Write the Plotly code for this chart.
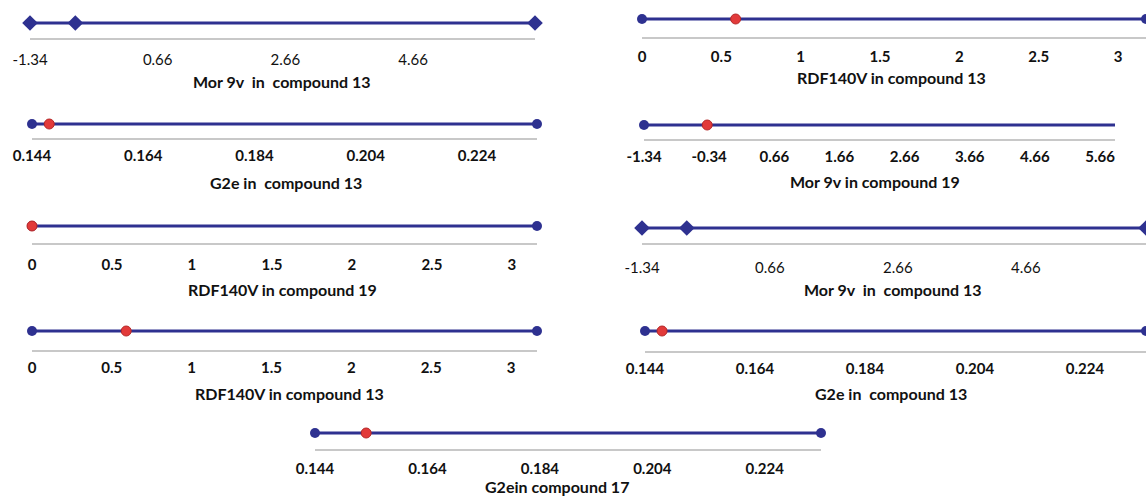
import plotly.graph_objects as go

# ---------------- data ----------------
panel_titles = [
    "Mor 9v\u00a0 in\u00a0 compound 13",
    "RDF140V in compound 13",
    "G2e in\u00a0 compound 13",
    "Mor 9v in compound 19",
    "RDF140V in compound 19",
    "Mor 9v\u00a0 in\u00a0 compound 13",
    "RDF140V in compound 13",
    "G2e in\u00a0 compound 13",
    "G2ein compound 17",
]
range_min = [-1.34, 0.0, 0.144, -1.34, 0.0, -1.34, 0.0, 0.144, 0.144]
range_max = [6.57, 3.176, 0.2348, 5.89, 3.157, 6.54, 3.163, 0.2351, 0.234]
point_value = [-0.63, 0.59, 0.1471, -0.37, 0.0, -0.64, 0.59, 0.1471, 0.1531]

ticks_mor13 = [-1.34, 0.66, 2.66, 4.66]
ticks_mor19 = [-1.34, -0.34, 0.66, 1.66, 2.66, 3.66, 4.66, 5.66]
ticks_rdf = [0, 0.5, 1, 1.5, 2, 2.5, 3]
ticks_g2e = [0.144, 0.164, 0.184, 0.204, 0.224]
labels_mor13 = ["-1.34", "0.66", "2.66", "4.66"]
labels_mor19 = ["-1.34", "-0.34", "0.66", "1.66", "2.66", "3.66", "4.66", "5.66"]
labels_rdf = ["0", "0.5", "1", "1.5", "2", "2.5", "3"]
labels_g2e = ["0.144", "0.164", "0.184", "0.204", "0.224"]

tick_values = [ticks_mor13, ticks_rdf, ticks_g2e, ticks_mor19, ticks_rdf,
               ticks_mor13, ticks_rdf, ticks_g2e, ticks_g2e]
tick_labels = [labels_mor13, labels_rdf, labels_g2e, labels_mor19, labels_rdf,
               labels_mor13, labels_rdf, labels_g2e, labels_g2e]

# ---------------- style / layout ----------------
W, H = 1146, 496
NAVY = "#2E3190"
RED = "#E23A3A"
GRAY = "#C8C8C8"
FONT = "Lato"

# x0, x1 (px), line y, axis y, title x, title y, symbol, point is red, right end marker,
# tick bold
geom = [
    (30, 535, 23, 38, 282, 82, "diamond", False, True, False),
    (642, 1146, 19, 37, 891, 77, "circle", True, True, True),
    (32, 537, 124, 138, 286, 182, "circle", True, True, True),
    (644, 1115, 125, 139, 875, 181, "circle", True, False, True),
    (32, 537, 226, 243, 282, 289, "circle", True, True, True),
    (642, 1146, 228, 243, 893, 289, "diamond", False, True, False),
    (32, 537, 331, 350, 289, 393, "circle", True, True, True),
    (645, 1146, 331, 351, 891, 393, "circle", True, True, True),
    (315, 821, 433, 449, 557, 486, "circle", True, True, True),
]
standoff = [7, 5, 3, 3, 7, 10, 3, 3, 5]

fig = go.Figure()
layout = dict(
    template="none",
    width=W, height=H,
    margin=dict(l=0, r=0, t=0, b=0, autoexpand=False),
    paper_bgcolor="white", plot_bgcolor="white",
    showlegend=False,
    annotations=[],
)

for i in range(9):
    x0, x1, yl, ya, tx, ty, sym, red, right_end, bold = geom[i]
    lo, hi = range_min[i], range_max[i]
    n = "" if i == 0 else str(i + 1)
    xa, ya_name = "x" + n, "y" + n
    msize = 12 if sym == "diamond" else 10

    fig.add_trace(go.Scatter(
        x=[lo, hi], y=[1, 1], mode="lines",
        line=dict(color=NAVY, width=3), xaxis=xa, yaxis=ya_name,
        cliponaxis=False, hoverinfo="skip"))
    ends = [lo, hi] if right_end else [lo]
    fig.add_trace(go.Scatter(
        x=ends, y=[1] * len(ends), mode="markers",
        marker=dict(color=NAVY, size=msize, symbol=sym),
        xaxis=xa, yaxis=ya_name, cliponaxis=False))
    fig.add_trace(go.Scatter(
        x=[point_value[i]], y=[1], mode="markers",
        marker=dict(color=RED if red else NAVY, size=msize, symbol=sym,
                    line=dict(color="#B52828" if red else NAVY, width=1 if red else 0)),
        xaxis=xa, yaxis=ya_name, cliponaxis=False))

    top = 2 * yl - ya
    layout["xaxis" + n] = dict(
        domain=[x0 / W, x1 / W], range=[lo, hi], anchor=ya_name,
        automargin=False,
        showline=True, linecolor=GRAY, linewidth=2,
        showgrid=False, zeroline=False, ticks="",
        tickmode="array", tickvals=tick_values[i],
        ticktext=[("<b>%s</b>" % t) if bold else t for t in tick_labels[i]],
        tickfont=dict(family=FONT, size=15, color="#111111"),
        ticklabelstandoff=standoff[i], fixedrange=True,
    )
    layout["yaxis" + n] = dict(
        domain=[1 - ya / H, 1 - top / H], range=[0, 2], anchor=xa,
        automargin=False,
        visible=False, fixedrange=True,
    )
    layout["annotations"].append(dict(
        xref="paper", yref="paper", x=tx / W, y=1 - ty / H,
        text="<b>%s</b>" % panel_titles[i], showarrow=False,
        xanchor="center", yanchor="middle",
        font=dict(family=FONT, size=16, color="#111111"),
    ))

fig.update_layout(**layout)
fig.write_html("out.html", post_script="document.body.style.margin='0';",
               config={"displayModeBar": False})
